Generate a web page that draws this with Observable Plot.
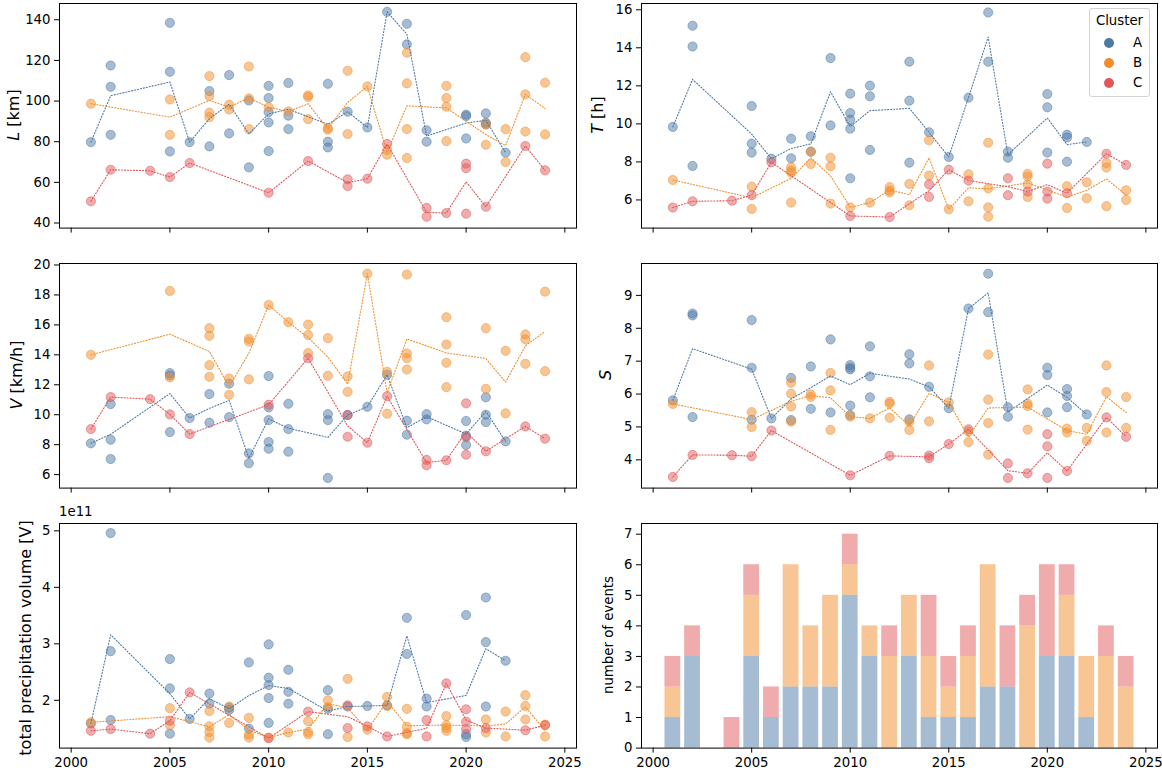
<!DOCTYPE html>
<html><head><meta charset="utf-8">
<script src="https://cdn.jsdelivr.net/npm/d3@7"></script>
<script src="https://cdn.jsdelivr.net/npm/@observablehq/plot@0.6"></script>
<style>
body{margin:0;background:#fff;font-family:"DejaVu Sans",sans-serif;}
#fig{position:relative;width:1162px;height:768px;overflow:hidden;background:#fff;}
.panel{position:absolute;}
.ylab{position:absolute;transform:translate(-50%,-50%) rotate(-90deg);white-space:nowrap;color:#000;line-height:1;}
.legend{position:absolute;left:1089px;top:8px;width:61px;height:89px;box-sizing:border-box;border:1px solid #d3d3d3;border-radius:3px;background:rgba(255,255,255,0.8);font-size:13.3px;color:#000;}
.legend .t{position:absolute;left:0;width:100%;top:4px;text-align:center;}
.legend .e{position:absolute;left:14px;height:14px;}
.legend .m{position:absolute;left:0;top:2px;width:10px;height:10px;border-radius:50%;}
.legend .l{position:absolute;left:29px;top:-1px;}
</style></head><body><div id="fig"></div>
<script>
// ---------------- data ----------------
const clusters = ["A", "B", "C"];
const clusterColors = ["#4e79a7", "#f28e2b", "#e15759"];
const VOL_UNIT = 1e11;

const yearA = [2001,2002,2002,2002,2005,2005,2005,2006,2007,2007,2008,2008,2009,2009,2010,2010,2010,2010,2010,2011,2011,2011,2013,2013,2013,2014,2015,2016,2017,2017,2018,2018,2020,2020,2020,2021,2021,2021,2022];
const L_A = [79.8,117.5,107,83.4,138.5,114.4,75.2,79.8,104.9,77.7,112.8,84.1,100.3,67.4,107.5,101.5,94.6,89.5,75.4,108.9,92.8,86.2,108.5,80,77.2,94.8,87,143.9,138,127.9,85.6,80,93.3,92.6,81.6,93.9,89.3,88.5,74.6];
const T_A = [9.84,15.16,14.07,7.79,10.94,8.96,8.49,8.17,9.22,8.19,9.35,8.54,13.46,9.92,11.59,10.57,10.22,9.75,7.14,12.01,11.45,8.63,13.27,11.22,7.96,9.56,8.26,11.38,15.86,13.27,8.54,8.22,11.57,10.87,8.49,9.43,9.29,8.01,9.05];
const V_A = [8.09,10.71,8.33,7.04,12.78,12.62,8.84,9.78,11.38,9.47,12.07,9.84,7.42,6.76,12.58,10.49,9.64,8.18,7.73,10.73,9.04,7.53,10.04,9.64,5.78,9.98,10.53,12.67,9.6,8.67,10.04,9.69,9.58,8.6,7.98,11.16,10,9.51,8.22];
const S_A = [5.81,8.45,8.39,5.3,8.25,6.8,5.22,5.26,6.49,5.21,6.84,5.55,7.66,5.44,6.88,6.8,6.75,5.65,5.36,7.45,6.54,5.9,7.21,6.93,5.23,6.22,5.57,8.6,9.66,8.49,5.6,5.31,6.8,6.58,5.44,6.15,5.94,5.6,5.38];
const Vol_A = [1.59,4.96,2.87,1.65,2.73,2.21,1.41,1.67,2.12,1.94,1.87,1.83,2.67,1.5,2.99,2.4,2.27,2.04,1.6,2.54,2.15,1.94,2.18,1.85,1.4,1.89,1.9,1.91,3.46,2.82,2.03,1.89,3.51,1.4,1.35,3.82,3.03,1.89,2.7];

const yearB = [2001,2005,2005,2007,2007,2007,2007,2008,2008,2009,2009,2009,2010,2011,2012,2012,2012,2013,2013,2014,2014,2015,2016,2016,2017,2017,2017,2017,2019,2019,2019,2019,2021,2021,2022,2022,2023,2023,2023,2024,2024];
const L_B = [98.7,100.8,83.4,112.3,102.5,94.3,92.1,98.2,95.9,117,101.3,86.2,97,94.9,102.8,102,91.1,86.7,85.9,114.9,83.8,107.2,75.9,73.6,123.8,108.7,86.2,72,107.5,101.5,97.2,80.3,88.5,78.5,86.2,70,121.6,103.3,85,109,83.6];
const T_B = [7.05,6.7,5.53,7.72,7.54,7.44,5.86,8.54,7.89,8.22,7.77,5.81,5.61,5.86,6.67,6.49,6.4,6.84,5.72,9.14,7.28,5.51,7.35,5.93,9.01,6.61,5.61,5.12,7.37,7.23,6.81,6.16,6.72,5.58,6.93,6.09,7.94,7.7,5.67,6.51,6.0];
const V_B = [14.0,18.27,12.49,15.78,15.27,13.31,12.53,12.42,11.33,15.07,14.89,12.36,17.33,16.18,16.02,15.33,14.11,15.11,12.6,12.56,11.53,19.42,12.87,10.07,19.36,14.09,13.78,13.02,16.51,14.69,13.47,11.84,15.78,11.73,14.27,10.09,15.36,15.04,13.4,18.22,12.91];
const S_B = [5.7,5.45,5.0,6.34,6.01,5.62,5.16,5.99,5.91,6.64,6.11,4.91,5.31,5.26,5.76,5.71,5.28,5.16,4.91,6.87,5.17,5.75,4.86,4.54,7.2,5.83,5.12,4.16,6.14,5.71,5.64,4.92,4.95,4.83,4.97,4.58,6.87,6.06,4.83,5.91,4.97];
const Vol_B = [1.61,1.86,1.56,1.81,1.54,1.44,1.34,1.89,1.6,1.69,1.39,1.34,1.34,1.43,1.63,1.44,1.4,2.0,1.88,2.38,1.35,1.48,2.06,1.9,1.85,1.53,1.42,1.4,1.72,1.56,1.51,1.46,1.66,1.43,1.8,1.36,2.09,1.9,1.66,1.57,1.36];

const yearC = [2001,2002,2004,2005,2006,2010,2012,2014,2014,2015,2016,2018,2018,2019,2020,2020,2020,2021,2023,2024];
const L_C = [50.7,66.2,65.7,62.6,69.5,54.9,70.5,61.5,58.2,61.8,78.9,47.4,43.1,44.9,69.2,67,44.6,48,77.9,65.9];
const T_C = [5.6,5.93,5.96,6.25,7.98,5.16,5.1,6.82,6.16,7.59,7.02,7.14,6.25,6.44,7.91,6.44,6.07,6.35,8.43,7.84];
const V_C = [9.04,11.18,11.04,10.02,8.71,10.67,13.78,9.98,8.53,8.13,11.24,6.98,6.62,6.96,10.76,8.49,7.33,7.56,9.22,8.4];
const S_C = [3.48,4.15,4.14,4.11,4.89,3.53,4.12,4.13,4.05,4.48,4.93,3.89,3.45,3.59,4.78,4.41,3.45,3.66,5.29,4.7];
const Vol_C = [1.46,1.49,1.41,1.64,2.14,1.33,1.8,1.91,1.51,1.54,1.36,1.65,1.36,2.3,1.84,1.62,1.49,1.51,1.47,1.56];

const xTicks = [2000, 2005, 2010, 2015, 2020, 2025];
const L_ticks = [40, 60, 80, 100, 120, 140];
const T_ticks = [6, 8, 10, 12, 14, 16];
const V_ticks = [6, 8, 10, 12, 14, 16, 18, 20];
const S_ticks = [4, 5, 6, 7, 8, 9];
const Vol_ticks = [2, 3, 4, 5];
const N_ticks = [0, 1, 2, 3, 4, 5, 6, 7];

// ---------------- table ----------------
const rows = [];
function addCluster(cl, years, L, T, V, S, Vol) {
  years.forEach((y, i) => rows.push({cluster: cl, year: y, L: L[i], T: T[i], V: V[i], S: S[i], Vol: Vol[i] * VOL_UNIT}));
}
addCluster("A", yearA, L_A, T_A, V_A, S_A, Vol_A);
addCluster("B", yearB, L_B, T_B, V_B, S_B, Vol_B);
addCluster("C", yearC, L_C, T_C, V_C, S_C, Vol_C);

const counts = [];
const roll = d3.rollup(rows, v => v.length, d => d.year, d => d.cluster);
Array.from(roll.keys()).sort((a, b) => a - b).forEach(y => {
  clusters.forEach(c => { const n = roll.get(y).get(c); if (n) counts.push({year: y, cluster: c, n}); });
});

// ---------------- layout ----------------
const fig = document.getElementById("fig");
const XDOM = [1999.41, 2025.59];
const IH = 224.6, MT = 3, MB = 30;
const COLS = [{left: 0, width: 580, ml: 59, mr: 4}, {left: 580, width: 582, ml: 61, mr: 5}];
const ROWS = [3, 262.6, 522.7];
const font = {fontFamily: "DejaVu Sans, sans-serif", fontSize: "13.3px", color: "#000", background: "transparent", overflow: "visible"};

function place(svg, col, row) {
  svg.classList.add("panel");
  svg.style.left = COLS[col].left + "px";
  svg.style.top = (ROWS[row] - MT) + "px";
  fig.appendChild(svg);
}
function axes(yticks, yfmt, xlabels) {
  return [
    Plot.axisY({ticks: yticks, tickSize: 5, tickPadding: 4, tickFormat: yfmt, label: null}),
    Plot.axisX({ticks: xTicks, tickSize: 5, tickPadding: 4, tickFormat: xlabels ? (d => String(d)) : (() => ""), label: null}),
    Plot.frame({stroke: "#000", strokeWidth: 1})
  ];
}
function scatter(key, col, row, ydom, yticks, yfmt, xlabels) {
  const c = COLS[col];
  const svg = Plot.plot({
    width: c.width, height: IH + MT + MB,
    marginLeft: c.ml, marginRight: c.mr, marginTop: MT, marginBottom: MB,
    style: font,
    x: {domain: XDOM}, y: {domain: ydom},
    color: {domain: clusters, range: clusterColors},
    marks: [
      Plot.dot(rows, {x: "year", y: key, fill: "cluster", stroke: "cluster", r: 4.6, fillOpacity: 0.5, strokeOpacity: 0.5, strokeWidth: 1}),
      Plot.line(rows, Plot.groupX({y: "mean"}, {x: "year", y: key, z: "cluster", stroke: "cluster", strokeWidth: 1.1, strokeDasharray: "1.1,1.9"})),
      ...axes(yticks, yfmt, xlabels)
    ]
  });
  place(svg, col, row);
}

scatter("L", 0, 0, [37.5, 148.0], L_ticks, d => String(d), false);
scatter("T", 1, 0, [4.52, 16.33], T_ticks, d => String(d), false);
scatter("V", 0, 1, [5.1, 20.1], V_ticks, d => String(d), false);
scatter("S", 1, 1, [3.14, 9.97], S_ticks, d => String(d), false);
scatter("Vol", 0, 2, [1.154e11, 5.13e11], Vol_ticks.map(t => t * VOL_UNIT), d => String(d / VOL_UNIT), true);

// bars
{
  const c = COLS[1];
  const svg = Plot.plot({
    width: c.width, height: IH + MT + MB,
    marginLeft: c.ml, marginRight: c.mr, marginTop: MT, marginBottom: MB,
    style: font,
    x: {domain: XDOM}, y: {domain: [0, 7.35]},
    color: {domain: clusters, range: clusterColors},
    marks: [
      Plot.rectY(counts, {x1: d => d.year - 0.4, x2: d => d.year + 0.4, y: "n", fill: "cluster", fillOpacity: 0.5}),
      ...axes(N_ticks, d => String(d), true)
    ]
  });
  place(svg, 1, 2);
}

// y labels
function ylab(html, x, y, size) {
  const d = document.createElement("div");
  d.className = "ylab";
  d.style.left = x + "px"; d.style.top = y + "px"; d.style.fontSize = size + "px";
  d.innerHTML = html;
  fig.appendChild(d);
}
ylab("<i>L</i> [km]", 14, ROWS[0] + IH / 2, 16);
ylab("<i>T</i> [h]", 598, ROWS[0] + IH / 2, 16);
ylab("<i>V</i> [km/h]", 17, ROWS[1] + IH / 2, 16);
ylab("<i>S</i>", 606, ROWS[1] + IH / 2, 16);
ylab("total precipitation volume [V]", 26, ROWS[2] + IH / 2 + 3, 16);
ylab("number of events", 609, ROWS[2] + IH / 2, 13.3);

// offset text
const off = document.createElement("div");
off.style.cssText = "position:absolute;left:59px;top:504px;font-size:13.3px;color:#000;";
off.textContent = "1e11";
fig.appendChild(off);

// legend
const lg = document.createElement("div");
lg.className = "legend";
let html = '<div class="t">Cluster</div>';
clusters.forEach((c, i) => {
  html += `<div class="e" style="top:${27 + i * 20}px"><div class="m" style="background:${clusterColors[i]}"></div><div class="l">${c}</div></div>`;
});
lg.innerHTML = html;
fig.appendChild(lg);
</script></body></html>
